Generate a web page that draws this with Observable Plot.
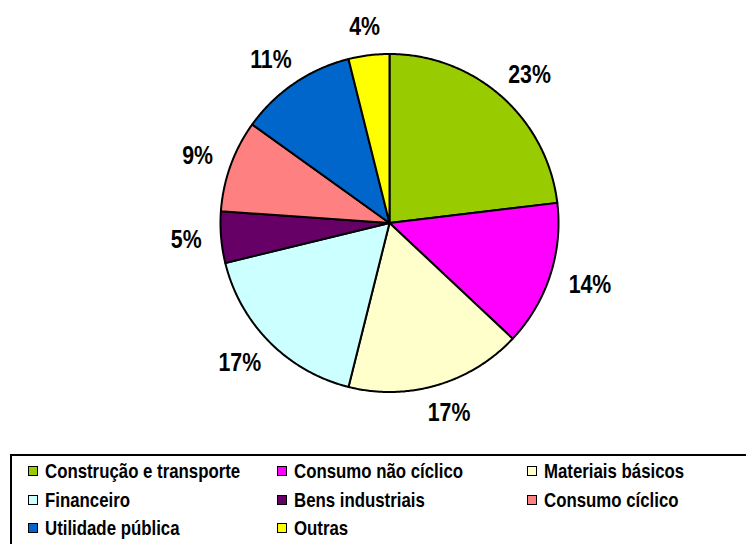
<!DOCTYPE html>
<html>
<head>
<meta charset="utf-8">
<script src="https://cdn.jsdelivr.net/npm/d3@7"></script>
<script src="https://cdn.jsdelivr.net/npm/@observablehq/plot@0.6"></script>
<style>
  html, body { margin: 0; padding: 0; background: #fff; }
  #wrap { position: relative; width: 746px; height: 544px; overflow: hidden; }
  #legend {
    position: absolute; left: 10px; top: 454px; width: 760px; height: 110px;
    border: 2px solid #000; box-sizing: border-box;
    font-family: "Liberation Sans", Arial, sans-serif;
    font-weight: bold; font-size: 20.5px; color: #000;
  }
  .item { position: absolute; display: flex; align-items: center; white-space: nowrap; line-height: 1; }
  .sw { width: 8px; height: 8px; border: 1.5px solid #000; margin-right: 7px; flex: none; }
  .tx { display: inline-block; transform: scaleX(0.82); transform-origin: 0 50%; }
</style>
</head>
<body>
<div id="wrap"></div>
<script>
const categories = ["Construção e transporte", "Consumo não cíclico", "Materiais básicos", "Financeiro", "Bens industriais", "Consumo cíclico", "Utilidade pública", "Outras"];
const shares = [23.1, 13.9, 16.9, 17.3, 4.9, 8.8, 11.2, 3.9];
const labels = ["23%", "14%", "17%", "17%", "5%", "9%", "11%", "4%"];
const colors = ["#99CC00", "#FF00FF", "#FFFFCC", "#CCFFFF", "#660066", "#FF8080", "#0066CC", "#FFFF00"];

const cx = 389, cy = 222.5, r = 169;
const total = d3.sum(shares);

// Build slice polygons from the data (unit circle, angle clockwise from top)
const pts = [];
const lab = [];
let acc = 0;
shares.forEach((v, i) => {
  const a0 = acc / total * 2 * Math.PI;
  acc += v;
  const a1 = acc / total * 2 * Math.PI;
  pts.push({key: categories[i], x: 0, y: 0});
  const n = Math.max(2, Math.ceil((a1 - a0) / (Math.PI / 360)));
  for (let k = 0; k <= n; k++) {
    const a = a0 + (a1 - a0) * k / n;
    pts.push({key: categories[i], x: Math.sin(a), y: Math.cos(a)});
  }
  const am = (a0 + a1) / 2;
  const s = Math.sin(am), c = Math.cos(am);
  const w = 14 * labels[i].length + 2, h = 18;
  const R = 189;
  lab.push({
    text: labels[i],
    x: (R * s + (w / 2) * s) / r,
    y: (R * c + (h / 2) * c) / r
  });
});

const chart = Plot.plot({
  width: 746,
  height: 450,
  margin: 0,
  x: {domain: [-1, 1], range: [cx - r, cx + r], axis: null},
  y: {domain: [-1, 1], range: [cy + r, cy - r], axis: null},
  color: {domain: categories, range: colors, legend: false},
  style: {background: "transparent"},
  marks: [
    Plot.line(pts, {x: "x", y: "y", z: "key", fill: "key", stroke: "#000", strokeWidth: 2, curve: "linear-closed", strokeLinejoin: "round"}),
    Plot.text(lab, {x: "x", y: "y", text: "text", fontSize: 26, fontWeight: "bold", fill: "#000",
      fontFamily: "'Liberation Sans', Arial, sans-serif", textAnchor: "middle", lineAnchor: "middle"})
  ]
});

const wrap = document.getElementById("wrap");
wrap.appendChild(chart);

// Condense the percentage labels horizontally (narrow bold face look)
chart.querySelectorAll("text").forEach(t => {
  const b = t.getBBox();
  const mx = b.x + b.width / 2;
  const T = t.getAttribute("transform") || "";
  t.setAttribute("transform", `${T} translate(${mx},0) scale(0.82,1) translate(${-mx},0)`);
});

const legend = document.createElement("div");
legend.id = "legend";
const colX = [16, 265, 515];
const rowY = [15, 44, 72];
categories.forEach((c, i) => {
  const it = document.createElement("div");
  it.className = "item";
  it.style.left = colX[i % 3] + "px";
  it.style.top = (rowY[Math.floor(i / 3)] - 10) + "px";
  const sw = document.createElement("span");
  sw.className = "sw";
  sw.style.background = colors[i];
  const t = document.createElement("span");
  t.className = "tx";
  t.textContent = c;
  it.appendChild(sw);
  it.appendChild(t);
  legend.appendChild(it);
});
wrap.appendChild(legend);
</script>
</body>
</html>
